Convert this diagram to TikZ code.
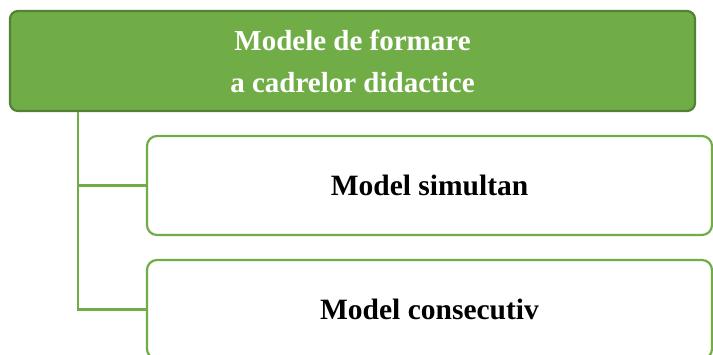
\documentclass[tikz,border=0pt]{standalone}
\usepackage{fontspec}
\setmainfont{Liberation Serif}
\definecolor{gfill}{HTML}{70AD47}
\definecolor{gdark}{HTML}{548235}
\begin{document}
\begin{tikzpicture}[x=1pt,y=-1pt,
  topbox/.style={draw=gdark,fill=gfill,line width=2.2pt,rounded corners=8pt,
    minimum width=685pt,minimum height=100pt,inner sep=0pt,align=center,
    text=white,font=\fontsize{29}{42}\selectfont\bfseries},
  childbox/.style={draw=gfill,fill=white,line width=2.2pt,rounded corners=10pt,
    minimum width=565pt,minimum height=99pt,inner sep=0pt,align=center,
    font=\fontsize{29.5}{42}\selectfont\bfseries},
  conn/.style={draw=gfill,line width=2.2pt}]
\useasboundingbox (0,0) rectangle (713,354);
\node[topbox] (top) at (352.5,61) {Modele de formare\\a cadrelor didactice};
\node[childbox] (c1) at (429.5,185.5) {Model simultan};
\node[childbox] (c2) at (429.5,309.5) {Model consecutiv};
\draw[conn] ([xshift=69pt]top.south west) |- (c1.west);
\draw[conn] ([xshift=69pt]top.south west) |- (c2.west);
\end{tikzpicture}
\end{document}
